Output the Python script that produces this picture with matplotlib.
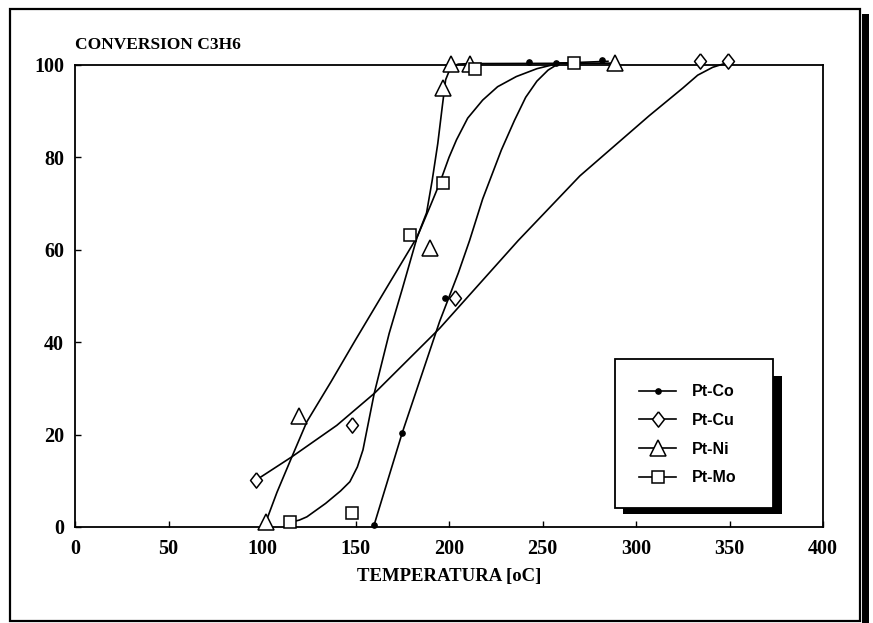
import matplotlib
matplotlib.use("Agg")
import matplotlib.pyplot as plt
from matplotlib.patches import Rectangle
from matplotlib.lines import Line2D

# --- datos ---
temp_ticks = [0, 50, 100, 150, 200, 250, 300, 350, 400]
conv_ticks = [0, 20, 40, 60, 80, 100]

# puntos medidos
co_t = [160, 175, 198, 243, 257, 282]
co_c = [0.5, 20.4, 49.5, 100.6, 100.5, 101]
cu_t = [97, 148, 203, 334, 349]
cu_c = [10.2, 22, 49.6, 100.9, 100.9]
ni_t = [102, 120, 190, 197, 201, 211, 289]
ni_c = [1, 24, 60.4, 95, 100.3, 100.3, 100.5]
mo_t = [115, 148, 179, 197, 214, 267]
mo_c = [1, 3, 63.2, 74.5, 99.2, 100.5]

# curvas de ajuste (trazadas a mano sobre la figura)
co_fit_t = [160, 175, 195, 205, 211, 218, 228, 235, 241, 247, 253, 259, 285]
co_fit_c = [0.5, 20.4, 44.5, 55, 62, 71, 81.6, 88, 93, 96.5, 98.9, 100.4, 100.8]
cu_fit_t = [97, 116, 140, 160, 195, 237, 270, 307, 325, 333, 341, 348]
cu_fit_c = [10.2, 15.2, 22, 28.9, 43, 62, 76, 89, 95, 97.8, 99.5, 100.4]
ni_fit_t = [102, 108, 116, 124, 137, 150, 168, 183, 188, 191, 194, 196.4, 198.2, 201, 205, 211, 289]
ni_fit_c = [1, 7.5, 15.2, 22.8, 31.5, 40.5, 52.7, 62.8, 68, 75, 83, 91, 96.8, 99.6, 100.2, 100.3, 100.4]
mo_fit_t = [115, 120, 124, 134, 142, 147, 151, 154, 160, 168, 175, 183, 190, 195, 200, 204, 210, 218, 226, 236, 247, 259, 267]
mo_fit_c = [1, 1.5, 2.2, 5.1, 7.8, 9.8, 13, 16.7, 28.9, 41.9, 51.5, 62.8, 69.5, 74.4, 80, 83.8, 88.5, 92.4, 95.3, 97.5, 99.2, 100.4, 100.5]

W, H = 873, 623
fig = plt.figure(figsize=(W / 100, H / 100), dpi=100)
ax = fig.add_axes([75 / W, 1 - 527 / H, (823 - 75) / W, (527 - 65) / H])

diamond = [(0, 1), (0.78, 0), (0, -1), (-0.78, 0), (0, 1)]
lw = 1.2
mk = dict(markerfacecolor="white", markeredgecolor="black", markeredgewidth=1.1,
          linestyle="none", zorder=4, clip_on=False)

ax.plot(co_fit_t, co_fit_c, color="black", lw=lw, zorder=3, clip_on=False)
ax.plot(cu_fit_t, cu_fit_c, color="black", lw=lw, zorder=3, clip_on=False)
ax.plot(ni_fit_t, ni_fit_c, color="black", lw=lw, zorder=3, clip_on=False)
ax.plot(mo_fit_t, mo_fit_c, color="black", lw=lw, zorder=3, clip_on=False)

ax.plot(co_t, co_c, marker="o", markersize=3.8, color="black", linestyle="none",
        zorder=4, clip_on=False)
ax.plot(cu_t, cu_c, marker=diamond, markersize=11, **mk)
ax.plot(ni_t, ni_c, marker="^", markersize=11, **mk)
ax.plot(mo_t, mo_c, marker="s", markersize=9, **mk)

ax.set_xlim(0, 400)
ax.set_ylim(0, 100)
ax.set_xticks(temp_ticks)
ax.set_yticks(conv_ticks)
ax.tick_params(direction="in", length=4, width=1.0, top=False, right=False)
ax.tick_params(axis="x", pad=9)
ax.tick_params(axis="y", pad=8)
for lab in ax.get_xticklabels() + ax.get_yticklabels():
    lab.set_fontfamily("Liberation Serif")
    lab.set_fontweight("bold")
    lab.set_fontsize(14.5)
for sp in ax.spines.values():
    sp.set_linewidth(1.3)

fig.text(75 / W, 1 - 45 / H, "CONVERSION C3H6", fontfamily="Liberation Serif",
         fontweight="bold", fontsize=12.5, ha="left", va="center")
fig.text(449 / W, 1 - 577 / H, "TEMPERATURA [oC]", fontfamily="Liberation Serif",
         fontweight="bold", fontsize=13.5, ha="center", va="center")

# marco exterior con sombra
fig.add_artist(Rectangle((10 / W, 1 - 621 / H), 850 / W, 612 / H, transform=fig.transFigure,
                         fill=False, edgecolor="black", lw=1.6))
fig.add_artist(Rectangle((862 / W, 0), 7 / W, 1 - 14 / H, transform=fig.transFigure,
                         facecolor="black", edgecolor="none"))

# leyenda con sombra negra
fig.add_artist(Rectangle((623 / W, 1 - 514 / H), 159 / W, (514 - 376) / H,
                         transform=fig.transFigure, facecolor="black", edgecolor="none", zorder=5))
fig.add_artist(Rectangle((615 / W, 1 - 508 / H), 158 / W, (508 - 359) / H,
                         transform=fig.transFigure, facecolor="white", edgecolor="black",
                         lw=1.3, zorder=6))
handles = [
    Line2D([], [], color="black", lw=lw, marker="o", markersize=3.8),
    Line2D([], [], color="black", lw=lw, marker=diamond, markersize=11,
           markerfacecolor="white", markeredgewidth=1.1),
    Line2D([], [], color="black", lw=lw, marker="^", markersize=11,
           markerfacecolor="white", markeredgewidth=1.1),
    Line2D([], [], color="black", lw=lw, marker="s", markersize=9,
           markerfacecolor="white", markeredgewidth=1.1),
]
labels = ["Pt-Co", "Pt-Cu", "Pt-Ni", "Pt-Mo"]
leg = fig.legend(handles, labels, loc="upper left", bbox_to_anchor=(625 / W, 1 - 370 / H),
                 frameon=False, handlelength=2.3, handletextpad=1.0, labelspacing=0.85,
                 prop={"family": "Liberation Sans", "weight": "bold", "size": 11.5})
leg.set_zorder(7)

fig.savefig("out.png", dpi=100)
